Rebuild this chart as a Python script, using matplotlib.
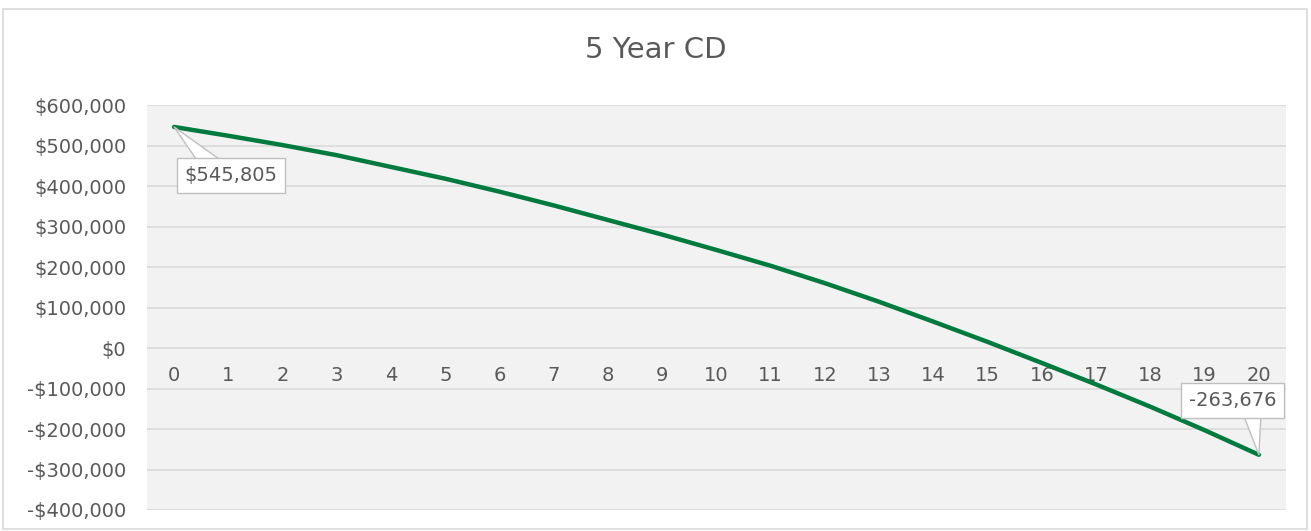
import matplotlib.pyplot as plt
from matplotlib.patches import Rectangle
import numpy as np

plt.rcParams['font.family'] = ['DejaVu Sans']

# balance at the end of each year
years = list(range(0, 21))
balance = [545805, 524000, 501000, 476000, 447000, 418000, 386000, 352000,
           316000, 280000, 242000, 203000, 160000, 114000, 65000, 15000,
           -37000, -90000, -145000, -203000, -263676]
y_ticks = list(range(-400000, 600001, 100000))
title = "5 Year CD"

txt_col = '#595959'
grid_col = '#d9d9d9'
line_col = '#007a3d'


def money(v):
    """$ format with sign in front, like Excel"""
    return ('-$' if v < 0 else '$') + format(abs(int(v)), ',')


fig = plt.figure(figsize=(13.11, 5.31), dpi=100)
fig.patches.append(Rectangle((0.0023, 0.004), 0.9947, 0.979, transform=fig.transFigure,
                             fill=False, ec='#d9d9d9', lw=1.2))
fig.text(0.5, 1 - 50/531, title, ha='center', va='center', fontsize=21,
         color=txt_col)

ax = fig.add_axes([147/1311, 1 - 510/531, (1286 - 147)/1311, (510 - 105)/531])
ax.set_facecolor('#f2f2f2')
ax.plot(years, balance, color=line_col, lw=3.2, solid_capstyle='round', zorder=3)

ax.set_xlim(-0.5, 20.5)
ax.set_ylim(-400000, 600000)
ax.set_yticks(y_ticks)
ax.set_yticklabels([money(v) for v in y_ticks])
ax.set_xticks(years)
ax.set_xticklabels([str(y) for y in years])
ax.grid(axis='y', color=grid_col, lw=1.2)
ax.set_axisbelow(True)
for s in ['top', 'right', 'left']:
    ax.spines[s].set_visible(False)
ax.spines['bottom'].set_position(('data', 0))
ax.spines['bottom'].set_visible(False)
ax.tick_params(axis='x', length=0, pad=13, labelsize=14, labelcolor=txt_col)
ax.tick_params(axis='y', length=0, pad=15, labelsize=14, labelcolor=txt_col)

# data callouts on first and last point
box = dict(boxstyle='square,pad=0.4', fc='white', ec='#bfbfbf', lw=1)
wedge = dict(arrowstyle='wedge,tail_width=1.0', fc='white', ec='#bfbfbf', lw=1,
             shrinkA=0, shrinkB=0, patchA=None)
ax.annotate(money(balance[0]), xy=(years[0], balance[0]), xytext=(41, -35),
            textcoords='offset points', ha='center', va='center', fontsize=14,
            color=txt_col, bbox=box, arrowprops=dict(wedge, relpos=(0.3, 1.0)),
            zorder=5)
ax.annotate(format(balance[-1], ','), xy=(years[-1], balance[-1]), xytext=(-19, 39),
            textcoords='offset points', ha='center', va='center', fontsize=14,
            color=txt_col, bbox=box, arrowprops=dict(wedge, relpos=(0.72, 0.0)),
            zorder=5, annotation_clip=False)

fig.savefig('out.png', dpi=100)
